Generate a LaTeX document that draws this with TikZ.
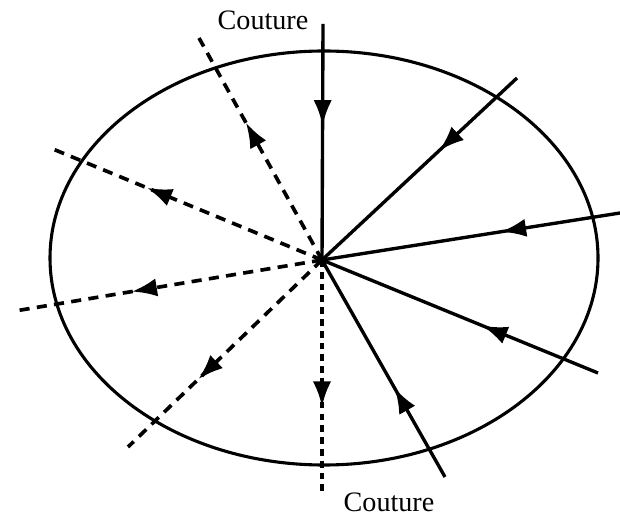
\documentclass[tikz,border=0pt]{standalone}
\usepackage{fontspec}
\setmainfont{Liberation Serif}
\usetikzlibrary{arrows.meta, decorations.markings}
\tikzset{
  midarrow/.style={postaction={decorate},
    decoration={markings,mark=at position #1 with {\arrow{Latex[length=9pt,width=6.5pt]}}}},
  inray/.style={line width=1.2pt},
  outray/.style={line width=1.3pt, dash pattern=on 3.6pt off 2.6pt},
}
\begin{document}
\begin{tikzpicture}[x=0.0125cm,y=-0.0125cm]
  \useasboundingbox (0,0) rectangle (620,516);
  % outline
  \draw[line width=1.1pt] (324,258) ellipse [x radius=274, y radius=207];
  % centre point
  \coordinate (O) at (322,260);
  % incoming rays (solid)
  \coordinate (in1) at (323,24);
  \coordinate (in2) at (517,78);
  \coordinate (in3) at (620,213);
  \coordinate (in4) at (598,373);
  \coordinate (in5) at (445,477);
  \draw[inray,midarrow=0.43] (in1) -- (O);
  \draw[inray,midarrow=0.40] (in2) -- (O);
  \draw[inray,midarrow=0.40] (in3) -- (O);
  \draw[inray,midarrow=0.42] (in4) -- (O);
  \draw[inray,midarrow=0.41] (in5) -- (O);
  % outgoing rays (dashed)
  \coordinate (out1) at (322,493);
  \coordinate (out2) at (128,447);
  \coordinate (out3) at (15,311);
  \coordinate (out4) at (48,147);
  \coordinate (out5) at (199,38);
  \draw[outray,dash pattern=on 2.4pt off 1.8pt,midarrow=0.63] (O) -- (out1);
  \draw[outray,midarrow=0.64] (O) -- (out2);
  \draw[outray,midarrow=0.62] (O) -- (out3);
  \draw[outray,midarrow=0.64] (O) -- (out4);
  \draw[outray,midarrow=0.62] (O) -- (out5);
  % labels
  \node (seamtop) at (263,20) {Couture};
  \node (seambot) at (389,502) {Couture};
\end{tikzpicture}
\end{document}
